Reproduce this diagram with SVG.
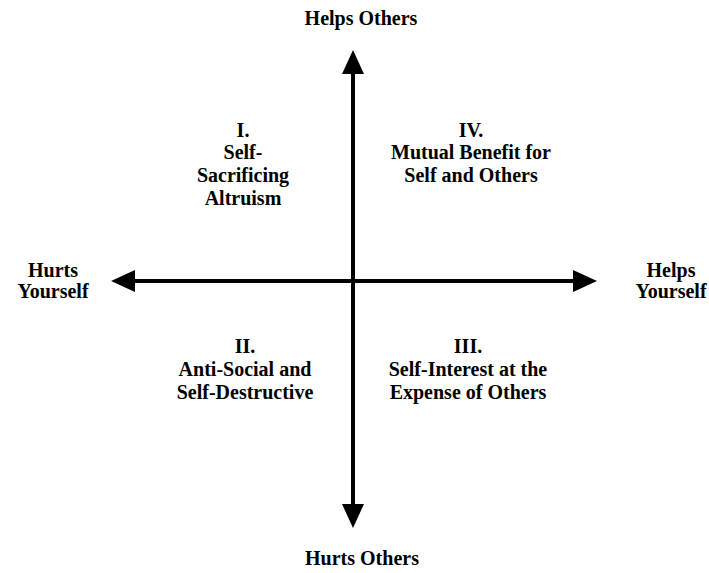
<svg xmlns="http://www.w3.org/2000/svg" width="709" height="573" viewBox="0 0 709 573">
<style>
text{font-family:"Liberation Serif","Times New Roman",serif;font-weight:bold;font-size:20px;fill:#000;text-anchor:middle}
.ax{stroke:#000;stroke-width:4;fill:none}
</style>
<defs>
<marker id="ah" viewBox="0 0 24 22" refX="2" refY="11" markerWidth="24" markerHeight="22" markerUnits="userSpaceOnUse" orient="auto">
<path d="M0,0 L24,11 L0,22 Z" fill="#000"/>
</marker>
</defs>
<rect width="709" height="573" fill="#fff"/>
<g id="connectors">
<line class="ax" x1="353" y1="281" x2="353" y2="72" marker-end="url(#ah)"/>
<line class="ax" x1="353" y1="281" x2="353" y2="506" marker-end="url(#ah)"/>
<line class="ax" x1="353" y1="281" x2="133" y2="281" marker-end="url(#ah)"/>
<line class="ax" x1="353" y1="281" x2="575" y2="281" marker-end="url(#ah)"/>
</g>
<g id="helps-others"><text x="361" y="25">Helps Others</text></g>
<g id="hurts-others"><text x="362" y="565">Hurts Others</text></g>
<g id="hurts-yourself"><text x="53" y="277">Hurts</text><text x="53" y="298">Yourself</text></g>
<g id="helps-yourself"><text x="671" y="277">Helps</text><text x="671" y="298">Yourself</text></g>
<g id="q1"><text x="243" y="137">I.</text><text x="243" y="159">Self-</text><text x="243" y="182">Sacrificing</text><text x="243" y="205">Altruism</text></g>
<g id="q4"><text x="471" y="137">IV.</text><text x="471" y="159">Mutual Benefit for</text><text x="471" y="182">Self and Others</text></g>
<g id="q2"><text x="245" y="353">II.</text><text x="245" y="376">Anti-Social and</text><text x="245" y="399">Self-Destructive</text></g>
<g id="q3"><text x="468" y="353">III.</text><text x="468" y="376">Self-Interest at the</text><text x="468" y="399">Expense of Others</text></g>
</svg>
